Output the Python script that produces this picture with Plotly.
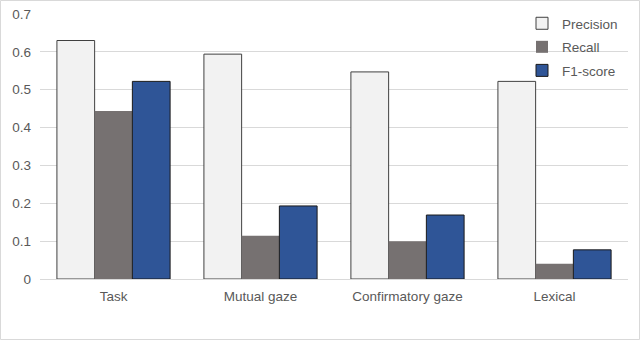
import plotly.graph_objects as go

categories = ['Task', 'Mutual gaze', 'Confirmatory gaze', 'Lexical']
precision = [0.630, 0.594, 0.547, 0.522]
recall = [0.444, 0.114, 0.100, 0.040]
f1_score = [0.522, 0.193, 0.169, 0.077]

W, H = 640, 340
ml, mr, mt, mb = 40, 12, 14, 61
pw, ph = W - ml - mr, H - mt - mb

fig = go.Figure()
fig.add_trace(go.Bar(x=categories, y=precision, name='Precision', legendgroup='p',
                     marker=dict(color='#F2F2F2', line=dict(color='#404040', width=1))))
fig.add_trace(go.Bar(x=categories, y=recall, name='Recall', legendgroup='r',
                     marker=dict(color='#767171', line=dict(color='#767171', width=0))))
fig.add_trace(go.Bar(x=categories, y=f1_score, name='F1-score', legendgroup='f',
                     marker=dict(color='#2F5597', line=dict(color='#1a1a1a', width=1))))

# light border round the whole chart
fig.add_shape(type='rect', xref='paper', yref='paper',
              x0=(-ml + 0.5) / pw, x1=1 + (mr - 0.5) / pw,
              y0=(-mb + 0.5) / ph, y1=1 + (mt - 0.5) / ph,
              line=dict(color='#D9D9D9', width=1), fillcolor='rgba(0,0,0,0)', layer='below')

fig.update_layout(
    width=W, height=H,
    margin=dict(l=ml, r=mr, t=mt, b=mb, autoexpand=False),
    barmode='group', bargap=0.23, bargroupgap=0,
    plot_bgcolor='white', paper_bgcolor='white',
    font=dict(family='Liberation Sans, Arial', size=13.5, color='#595959'),
    xaxis=dict(showgrid=False, showline=False, ticks='', automargin=False,
               ticklabelstandoff=7),
    yaxis=dict(range=[0, 0.7], dtick=0.1, showgrid=True, gridcolor='#D9D9D9',
               gridwidth=1, zeroline=True, zerolinecolor='#D9D9D9', zerolinewidth=1,
               ticks='', ticklabelstandoff=8, automargin=False),
    legend=dict(xref='container', yref='container', x=522 / W, y=1 - 8 / H,
                xanchor='left', yanchor='top', bgcolor='rgba(0,0,0,0)',
                traceorder='grouped', tracegroupgap=3, itemwidth=30,
                font=dict(size=13.5, color='#595959')),
    showlegend=True,
)

fig.write_html('out.html', config=dict(responsive=False, displayModeBar=False),
               post_script="document.body.style.margin='0';")
